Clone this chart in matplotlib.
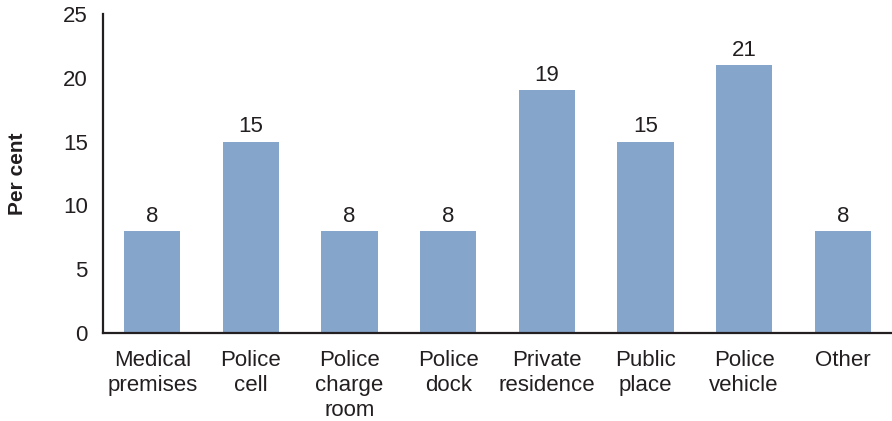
import matplotlib
matplotlib.use("Agg")
import matplotlib.pyplot as plt

categories = ["Medical\npremises", "Police\ncell", "Police\ncharge\nroom", "Police\ndock",
              "Private\nresidence", "Public\nplace", "Police\nvehicle", "Other"]
values = [8, 15, 8, 8, 19, 15, 21, 8]
y_ticks = [0, 5, 10, 15, 20, 25]

plt.rcParams["font.family"] = ["Liberation Sans", "DejaVu Sans"]
text_color = "#231f20"
fs = 16

fig = plt.figure(figsize=(8.92, 4.21), dpi=100)
ax = fig.add_axes([0.1155, 0.209, 0.8845, 0.758])

x = list(range(len(categories)))
bars = ax.bar(x, values, width=0.57, color="#86a5ca")
ax.bar_label(bars, labels=[str(v) for v in values], padding=3,
             fontsize=fs, color=text_color)

ax.set_xlim(-0.5, len(categories) - 0.5)
ax.set_ylim(0, 25)
ax.set_yticks(y_ticks)
ax.set_xticks(x)
ax.set_xticklabels(categories, fontsize=fs, color=text_color, linespacing=1.23)
ax.tick_params(axis="both", length=0, labelsize=fs, colors=text_color)
ax.tick_params(axis="x", pad=12.5)
ax.tick_params(axis="y", pad=11)

for side in ("top", "right"):
    ax.spines[side].set_visible(False)
for side in ("left", "bottom"):
    ax.spines[side].set_color(text_color)
    ax.spines[side].set_linewidth(1.6)

ax.set_ylabel("Per cent", fontsize=15, fontweight="bold", color=text_color, labelpad=26)

fig.savefig("out.png", dpi=100)
